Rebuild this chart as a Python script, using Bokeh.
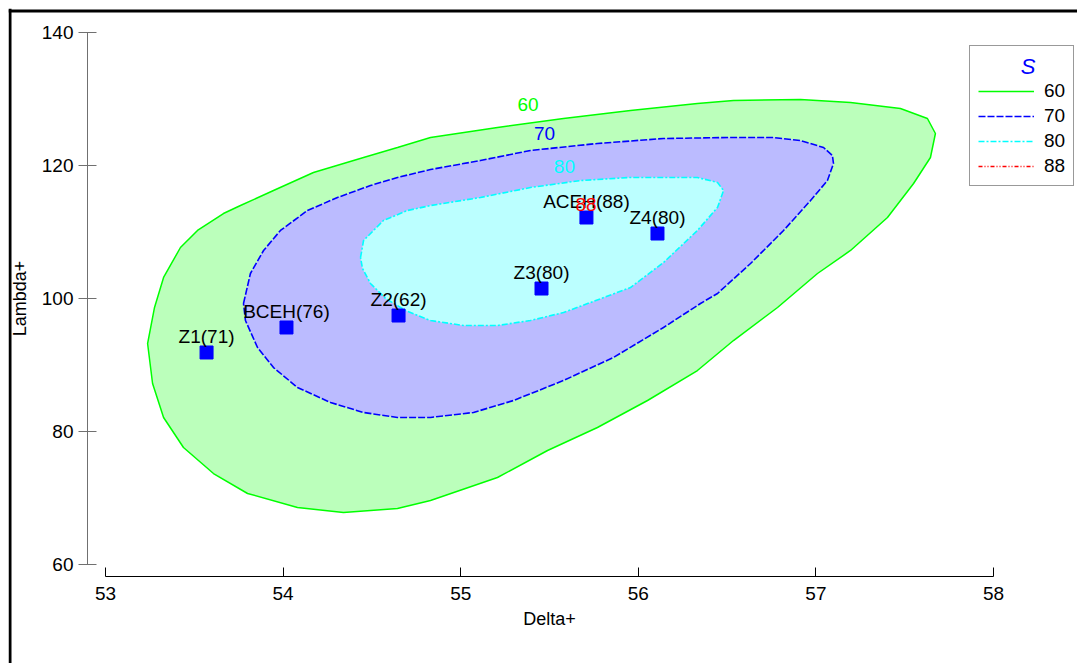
from bokeh.plotting import figure
from bokeh.models import LinearAxis, FixedTicker, Legend, LegendItem, Range1d, Span
from bokeh.core.properties import value
from bokeh.embed import file_html
from bokeh.resources import INLINE

# ---------------- data ----------------
point_names = ["Z1(71)", "BCEH(76)", "Z2(62)", "Z3(80)", "ACEH(88)", "Z4(80)"]
point_delta = [53.569, 54.019, 54.650, 55.455, 55.708, 56.108]
point_lambda = [91.88, 95.64, 97.44, 101.50, 112.18, 109.77]

contour_levels = ["60", "70", "80", "88"]

c60_delta = [53.237, 53.276, 53.327, 53.422, 53.518, 53.664, 53.760, 53.946, 54.171, 54.453,
             54.644, 54.830, 55.207, 55.579, 55.956, 56.333, 56.536, 56.913, 57.195, 57.476,
             57.628, 57.673, 57.645, 57.550, 57.403, 57.195, 57.009, 56.784, 56.536, 56.333,
             56.052, 55.770, 55.489, 55.207, 54.830, 54.644, 54.340, 54.081, 53.800, 53.608,
             53.439, 53.327, 53.265]
c60_lambda = [93.23, 98.65, 103.16, 107.67, 110.23, 112.78, 113.98, 116.24, 118.95, 121.20,
              122.71, 124.21, 125.71, 127.07, 128.27, 129.32, 129.77, 129.92, 129.47, 128.57,
              127.07, 124.81, 121.20, 117.29, 112.18, 107.22, 103.76, 98.65, 93.68, 89.17,
              84.66, 80.60, 77.14, 73.08, 69.62, 68.42, 67.82, 68.57, 70.68, 73.68,
              77.59, 82.11, 87.22]

c70_delta = [53.777, 53.816, 53.890, 53.985, 54.137, 54.306, 54.492, 54.644, 54.830, 55.111,
             55.393, 55.770, 56.142, 56.519, 56.761, 56.913, 57.043, 57.093, 57.099, 57.065,
             56.970, 56.818, 56.632, 56.446, 56.350, 56.142, 55.860, 55.579, 55.297, 55.072,
             54.830, 54.644, 54.453, 54.267, 54.081, 53.946, 53.856, 53.788]
c70_lambda = [99.25, 103.76, 107.22, 110.23, 113.23, 115.19, 116.99, 118.20, 119.40, 120.75,
              122.26, 123.31, 124.06, 124.21, 124.21, 123.76, 122.71, 121.50, 120.30, 117.74,
              114.74, 110.23, 105.26, 100.75, 99.25, 95.64, 91.13, 87.67, 84.66, 82.86,
              82.11, 82.11, 82.86, 84.36, 86.62, 89.62, 92.63, 96.69]

c80_delta = [54.436, 54.453, 54.565, 54.700, 54.830, 55.111, 55.393, 55.675, 55.956, 56.333,
             56.446, 56.480, 56.446, 56.333, 56.142, 55.956, 55.731, 55.579, 55.393, 55.207,
             55.016, 54.830, 54.689, 54.577, 54.492, 54.447]
c80_lambda = [106.17, 108.72, 111.73, 113.23, 113.98, 115.19, 116.69, 117.74, 118.20, 118.20,
              117.44, 116.24, 113.68, 110.23, 105.41, 101.65, 99.40, 97.89, 96.69, 95.94,
              95.94, 96.69, 98.20, 100.00, 102.26, 104.51]

c88_delta = [55.700, 55.710, 55.720, 55.730, 55.735, 55.725, 55.712]
c88_lambda = [112.10, 112.40, 112.45, 112.35, 112.05, 111.90, 111.95]

level_label_delta = [55.379, 55.472, 55.584, 55.706]
level_label_lambda = [129.17, 124.74, 119.92, 114.14]

legend_title = "S"

x_ticks = [53, 54, 55, 56, 57, 58]
y_ticks = [60, 80, 100, 120, 140]

# ---------------- styling ----------------
FONT = "Liberation Sans"
level_colors = ["#00FF00", "#0000FF", "#00FFFF", "#FF0000"]

p = figure(width=1077, height=663,
           x_range=Range1d(52.4538, 58.4730), y_range=Range1d(45.113, 143.609),
           x_axis_type=None, y_axis_type=None,
           toolbar_location=None, tools="", output_backend="svg",
           min_border_left=8, min_border_top=8, min_border_right=0, min_border_bottom=0)
p.outline_line_color = None
p.background_fill_color = "white"
p.border_fill_color = "white"

# outer frame (left and top edges visible, rest runs off the window as in the reference)
p.add_layout(Span(location=52.4623, dimension="height", line_color="black", line_width=3))
p.add_layout(Span(location=143.233, dimension="width", line_color="black", line_width=3))

def closed(a):
    return list(a) + [a[0]]

p.patch(c60_delta, c60_lambda, fill_color="#BBFFBB", line_color=None)
p.patch(c70_delta, c70_lambda, fill_color="#BBBBFF", line_color=None)
p.patch(c80_delta, c80_lambda, fill_color="#BBFFFF", line_color=None)

r60 = p.line(closed(c60_delta), closed(c60_lambda), line_color=level_colors[0], line_width=1.5)
r70 = p.line(closed(c70_delta), closed(c70_lambda), line_color=level_colors[1], line_width=1.6,
             line_dash="7 2")
r80 = p.line(closed(c80_delta), closed(c80_lambda), line_color=level_colors[2], line_width=1.6,
             line_dash="6 2 2 2")
r88 = p.line(closed(c88_delta), closed(c88_lambda), line_color=level_colors[3], line_width=1.5,
             line_dash="4 2 1 2 1 2")

p.scatter(point_delta, point_lambda, marker="square", size=13,
          fill_color="#0000FF", line_color="#0000FF")

p.text(x=point_delta, y=point_lambda, text=point_names, text_align="center",
       text_baseline="alphabetic", y_offset=-16, text_font=value(FONT),
       text_font_size="19px", text_color="black")

p.text(x=level_label_delta, y=level_label_lambda, text=contour_levels,
       text_color=level_colors, text_align="center", text_baseline="middle",
       text_font=value(FONT), text_font_size="19px")

# axes
xaxis = LinearAxis(fixed_location=58.27, bounds=(53, 58),
                   ticker=FixedTicker(ticks=x_ticks, minor_ticks=[]),
                   axis_label="Delta+")
xaxis.axis_line_color = "black"
xaxis.major_tick_line_color = "black"
xaxis.major_tick_in = 9
xaxis.major_tick_out = 0
xaxis.minor_tick_in = 0
xaxis.minor_tick_out = 0
xaxis.major_label_standoff = 11
xaxis.major_label_text_font = FONT
xaxis.major_label_text_font_size = "19px"
xaxis.major_label_text_color = "black"
xaxis.axis_label_text_font = FONT
xaxis.axis_label_text_font_size = "18px"
xaxis.axis_label_text_font_style = "normal"
xaxis.axis_label_text_color = "black"
xaxis.axis_label_standoff = 5
p.add_layout(xaxis, "below")

yaxis = LinearAxis(fixed_location=52.8986, bounds=(60, 140),
                   ticker=FixedTicker(ticks=y_ticks, minor_ticks=[]),
                   axis_label="Lambda+")
yaxis.axis_line_color = "#707070"
yaxis.major_tick_line_color = "#707070"
yaxis.major_tick_in = 9
yaxis.major_tick_out = 9
yaxis.minor_tick_in = 0
yaxis.minor_tick_out = 0
yaxis.major_label_standoff = 5
yaxis.major_label_text_font = FONT
yaxis.major_label_text_font_size = "19px"
yaxis.major_label_text_color = "black"
yaxis.axis_label_text_font = FONT
yaxis.axis_label_text_font_size = "18px"
yaxis.axis_label_text_font_style = "normal"
yaxis.axis_label_text_color = "black"
yaxis.axis_label_standoff = 9
p.add_layout(yaxis, "left")

legend = Legend(items=[LegendItem(label=contour_levels[0], renderers=[r60]),
                       LegendItem(label=contour_levels[1], renderers=[r70]),
                       LegendItem(label=contour_levels[2], renderers=[r80]),
                       LegendItem(label=contour_levels[3], renderers=[r88])],
                location=(961, 477), title="\u00a0" * 7 + legend_title)
legend.border_line_color = "#333333"
legend.border_line_width = 1
legend.background_fill_color = "white"
legend.background_fill_alpha = 1.0
legend.padding = 8
legend.spacing = 3
legend.margin = 0
legend.glyph_width = 56
legend.glyph_height = 20
legend.label_height = 20
legend.label_standoff = 10
legend.label_text_font = FONT
legend.label_text_font_size = "19px"
legend.label_text_color = "black"
legend.title_text_font = FONT
legend.title_text_font_size = "22px"
legend.title_text_font_style = "italic"
legend.title_text_color = "#0000FF"
legend.title_standoff = 0
p.add_layout(legend)

open("out.html", "w").write(file_html(p, INLINE))
